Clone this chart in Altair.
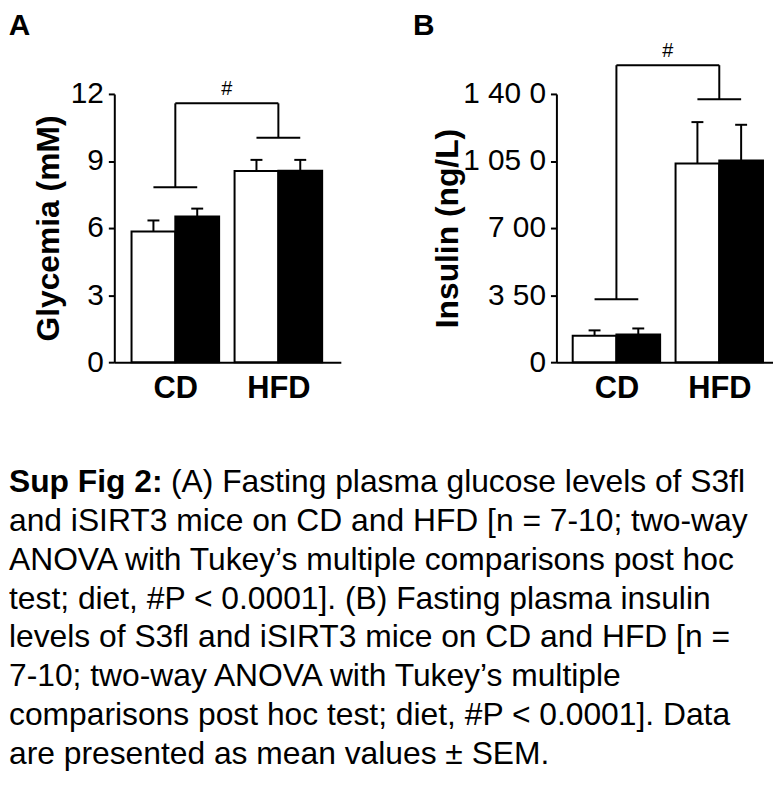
import json
import altair as alt
import pandas as pd

# ---------------- data ----------------
groups = ["CD", "HFD"]
genotypes = ["S3fl", "iSIRT3"]

glyc_mean = [5.85, 6.52, 8.55, 8.56]
glyc_sem = [0.49, 0.35, 0.50, 0.49]
ins_mean = [138, 144, 1037, 1053]
ins_sem = [28, 32, 216, 186]

glyc_ticks = [0, 3, 6, 9, 12]
glyc_tick_labels = ["0", "3", "6", "9", "12"]
ins_ticks = [0, 350, 700, 1050, 1400]
ins_tick_labels = ["0", "3 50", "7 00", "1 05 0", "1 40 0"]

# bracket levels: [CD cross-bar, top bar, HFD cross-bar]
glyc_bracket = [7.83, 11.58, 10.04]
ins_bracket = [328, 1550, 1372]
glyc_hash = 12.24
ins_hash = 1624

caption_bold = "Sup Fig 2:"
caption_lines = [
    "(A) Fasting plasma glucose levels of S3fl",
    "and iSIRT3 mice on CD and HFD [n = 7-10; two-way",
    "ANOVA with Tukey\u2019s multiple comparisons post hoc",
    "test; diet, #P < 0.0001]. (B) Fasting plasma insulin",
    "levels of S3fl and iSIRT3 mice on CD and HFD [n =",
    "7-10; two-way ANOVA with Tukey\u2019s multiple",
    "comparisons post hoc test; diet, #P < 0.0001]. Data",
    "are presented as mean values \u00b1 SEM.",
]

FONT = "Liberation Sans"
BW = 0.425  # bar width in group units


def bar_frame(means, sems):
    rows = []
    for gi, g in enumerate(groups):
        for ji, gt in enumerate(genotypes):
            k = gi * len(genotypes) + ji
            x0 = gi + (ji - 1) * BW
            x1 = gi + ji * BW
            rows.append(dict(group=g, genotype=gt, x0=x0, x1=x1,
                             xc=(x0 + x1) / 2, mean=means[k],
                             top=means[k] + sems[k]))
    return pd.DataFrame(rows)


def bracket_frame(levels):
    lo, top, hi = levels
    segs = [
        (-BW / 2, lo, BW / 2, lo),
        (0, lo, 0, top),
        (0, top, 1, top),
        (1, top, 1, hi),
        (1 - BW / 2, hi, 1 + BW / 2, hi),
    ]
    return pd.DataFrame(segs, columns=["xa", "ya", "xb", "yb"])


def panel(letter, ytitle, means, sems, ticks, tick_labels, bracket, hash_level,
          xdomain, width, title_pad, letter_dx, letter_offset):
    df = bar_frame(means, sems)
    ymax = ticks[-1]
    x_axis = alt.Axis(values=[0, 1], labelExpr=f"{json.dumps(groups)}[datum.value]",
                      ticks=False, grid=False, labelFontSize=31, labelFontWeight="bold",
                      labelPadding=12, domainWidth=2, domainColor="black",
                      labelColor="black", labelFlush=False, labelOverlap=False, title=None)
    y_axis = alt.Axis(values=ticks,
                      labelExpr=f"{json.dumps(tick_labels)}[indexof({json.dumps(ticks)}, datum.value)]",
                      grid=False, tickSize=6, tickWidth=2, tickColor="black",
                      domainWidth=2, domainColor="black", labelFontSize=30,
                      labelPadding=5, labelColor="black", labelOverlap=False,
                      labelFlush=False, title=ytitle, titleFontSize=32,
                      titleFontWeight="bold", titleColor="black", titlePadding=title_pad)
    xs = alt.Scale(domain=xdomain, nice=False, zero=False)
    ys = alt.Scale(domain=[0, ymax], nice=False)

    bars = alt.Chart(df).mark_bar(stroke="black", strokeWidth=2, orient="vertical").encode(
        x=alt.X("x0:Q", scale=xs, axis=x_axis),
        x2="x1:Q",
        y=alt.Y("mean:Q", scale=ys, axis=y_axis),
        y2=alt.datum(0),
        color=alt.Color("genotype:N", scale=alt.Scale(domain=genotypes, range=["white", "black"]),
                        legend=None),
    )
    err = alt.Chart(df).mark_rule(color="black", strokeWidth=2).encode(
        x="xc:Q", y="mean:Q", y2="top:Q")
    caps = alt.Chart(df).mark_tick(orient="horizontal", size=12, thickness=2,
                                   color="black", opacity=1).encode(
        x="xc:Q", y="top:Q")
    br = alt.Chart(bracket_frame(bracket)).mark_rule(color="black", strokeWidth=2).encode(
        x="xa:Q", x2="xb:Q", y="ya:Q", y2="yb:Q")
    hsh = alt.Chart(pd.DataFrame({"t": ["#"]})).mark_text(
        fontSize=20, baseline="middle", color="black").encode(
        x=alt.datum(0.5), y=alt.datum(hash_level), text="t:N")

    return alt.layer(bars, err, caps, br, hsh).properties(
        width=width, height=270,
        title=alt.TitleParams(letter, anchor="start", frame="bounds", fontSize=30,
                              fontWeight="bold", color="black", dx=letter_dx,
                              offset=letter_offset),
    )


panel_a = panel("A", "Glycemia (mM)", glyc_mean, glyc_sem, glyc_ticks, glyc_tick_labels,
                glyc_bracket, glyc_hash, [-0.544, 1.558], 228, 5, -24, 38)
panel_b = panel("B", "Insulin (ng/L)", ins_mean, ins_sem, ins_ticks, ins_tick_labels,
                ins_bracket, ins_hash, [-0.535, 1.474], 218, -2, -19, 0)

top = alt.hconcat(panel_a, panel_b, spacing=72)

cap_df = pd.DataFrame({"line": list(range(len(caption_lines))), "text": caption_lines})
cap_y = alt.Y("line:Q", scale=alt.Scale(domain=[0, len(caption_lines) - 1], reverse=True),
              axis=None)
CAP_X = -106
cap_bold = alt.Chart(pd.DataFrame({"line": [0], "text": [caption_bold]})).mark_text(
    align="left", baseline="alphabetic", fontSize=32, fontWeight="bold", color="black").encode(
    x=alt.value(CAP_X), y=cap_y, text="text:N")
cap_first = alt.Chart(cap_df[cap_df.line == 0]).mark_text(
    align="left", baseline="alphabetic", fontSize=32, color="black", dx=163).encode(
    x=alt.value(CAP_X), y=cap_y, text="text:N")
cap_rest = alt.Chart(cap_df[cap_df.line > 0]).mark_text(
    align="left", baseline="alphabetic", fontSize=32, color="black").encode(
    x=alt.value(CAP_X), y=cap_y, text="text:N")
caption = alt.layer(cap_bold, cap_first, cap_rest).properties(width=300, height=273)

chart = alt.vconcat(top, caption, spacing=63).properties(
    padding={"left": 0, "top": 0, "right": 0, "bottom": 0}
).configure(font=FONT).configure_view(stroke=None)

chart.save("out.html", embed_options={"renderer": "svg", "actions": False})
